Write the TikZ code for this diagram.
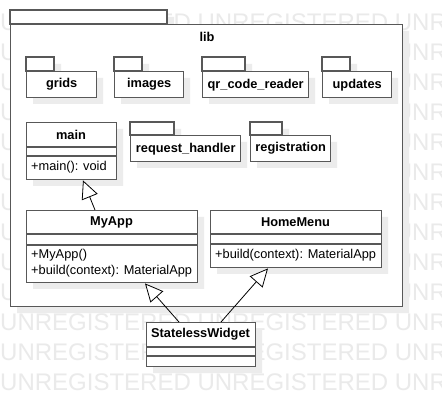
\documentclass[tikz,border=0pt]{standalone}
\usepackage{fontspec}
\setmainfont{Liberation Sans}
\usetikzlibrary{arrows.meta}
\definecolor{bd}{RGB}{88,88,88}
\definecolor{shc}{RGB}{236,236,236}
\definecolor{wm}{RGB}{234,234,234}
\tikzset{
  shadowfill/.style={fill=shc,draw=none},
  boxline/.style={draw=bd,line width=1.4pt,fill=white},
  pkgbody/.style={boxline,anchor=north west,inner sep=0pt,minimum height=26pt,font=\fontsize{12.8}{15}\selectfont\bfseries},
  clsbox/.style={boxline,anchor=north west,inner sep=0pt},
  cname/.style={inner sep=0pt,font=\fontsize{12.8}{15}\selectfont\bfseries},
  ctext/.style={inner sep=0pt,anchor=west,font=\fontsize{12.8}{15}\selectfont},
  sepline/.style={draw=bd,line width=1.4pt},
  gen/.style={draw=black,line width=0.8pt,-{Triangle[open,length=18pt,width=17pt,fill=white]}},
  wmtext/.style={inner sep=0pt,anchor=base west,text=wm,font=\fontsize{24}{24}\selectfont}
}
\begin{document}
\begin{tikzpicture}[x=1pt,y=-1pt]
\useasboundingbox[fill=white] (0,0) rectangle (442,406);
% watermark
\foreach \k in {0,...,12}{
  \node[wmtext] (wm\k) at (0,{30.5+30*\k}) {UNREGISTERED UNREGISTERED UNREGISTERED};
}
% lib package
\path[shadowfill] (17,17) rectangle (174,31) (17,31) rectangle (409,313);
\draw[boxline] (10,10) rectangle (167,24);
\node[clsbox,minimum width=392pt,minimum height=282pt] (lib) at (10,24) {};
\node[cname] (libl) at (207,37) {lib};
% shadows of inner elements
\path[shadowfill] (33,64) rectangle (61,78) (33,78) rectangle (103,104)
  (121,64) rectangle (149,78) (121,78) rectangle (190,104)
  (209,64) rectangle (252,78) (209,78) rectangle (315,104)
  (329,64) rectangle (357,78) (329,78) rectangle (398,104)
  (137,129) rectangle (181,142) (137,142) rectangle (247,168)
  (257,129) rectangle (289,142) (257,142) rectangle (337,168)
  (33,129) rectangle (123,186)
  (33,217) rectangle (204,289)
  (217,217) rectangle (388,274)
  (153,329) rectangle (262,373);
% sub packages row 1
\draw[boxline] (26,57) rectangle (54,71);
\node[pkgbody,minimum width=70pt] (grids) at (26,71) {grids};
\draw[boxline] (114,57) rectangle (142,71);
\node[pkgbody,minimum width=69pt] (images) at (114,71) {images};
\draw[boxline] (202,57) rectangle (245,71);
\node[pkgbody,minimum width=106pt] (qr) at (202,71) {qr\_code\_reader};
\draw[boxline] (322,57) rectangle (350,71);
\node[pkgbody,minimum width=69pt] (updates) at (322,71) {updates};
% row 2 packages
\draw[boxline] (130,122) rectangle (174,135);
\node[pkgbody,minimum width=110pt] (req) at (130,135) {request\_handler};
\draw[boxline] (250,122) rectangle (282,135);
\node[pkgbody,minimum width=80pt] (reg) at (250,135) {registration};
% class main
\node[clsbox,minimum width=90pt,minimum height=57pt] (main) at (26,122) {};
\draw[sepline] ([yshift=-25pt]main.north west) -- ([yshift=-25pt]main.north east);
\draw[sepline] ([yshift=-34pt]main.north west) -- ([yshift=-34pt]main.north east);
\node[cname] (mainn) at (71,134.5) {main};
\node[ctext] (mainop) at (31,167) {+main(): void};
% class MyApp
\node[clsbox,minimum width=171pt,minimum height=72pt] (myapp) at (26,210) {};
\draw[sepline] ([yshift=-24pt]myapp.north west) -- ([yshift=-24pt]myapp.north east);
\draw[sepline] ([yshift=-35pt]myapp.north west) -- ([yshift=-35pt]myapp.north east);
\node[cname] (myappn) at (111.5,222) {MyApp};
\node[ctext] (myappop1) at (31,255) {+MyApp()};
\node[ctext] (myappop2) at (31,271) {+build(context): MaterialApp};
% class HomeMenu
\node[clsbox,minimum width=171pt,minimum height=57pt] (home) at (210,210) {};
\draw[sepline] ([yshift=-24pt]home.north west) -- ([yshift=-24pt]home.north east);
\draw[sepline] ([yshift=-34pt]home.north west) -- ([yshift=-34pt]home.north east);
\node[cname] (homen) at (295.5,222) {HomeMenu};
\node[ctext] (homeop) at (215,255) {+build(context): MaterialApp};
% class StatelessWidget
\node[clsbox,minimum width=109pt,minimum height=44pt] (sw) at (146,322) {};
\draw[sepline] ([yshift=-25pt]sw.north west) -- ([yshift=-25pt]sw.north east);
\draw[sepline] ([yshift=-34pt]sw.north west) -- ([yshift=-34pt]sw.north east);
\node[cname] (swn) at (200.5,334.5) {StatelessWidget};
% generalizations
\draw[gen] ([xshift=69pt]myapp.north west) -- ([xshift=57pt]main.south west);
\draw[gen] ([xshift=33pt]sw.north west) -- ([xshift=119pt]myapp.south west);
\draw[gen] ([xshift=75pt]sw.north west) -- ([xshift=58pt]home.south west);
\end{tikzpicture}
\end{document}
